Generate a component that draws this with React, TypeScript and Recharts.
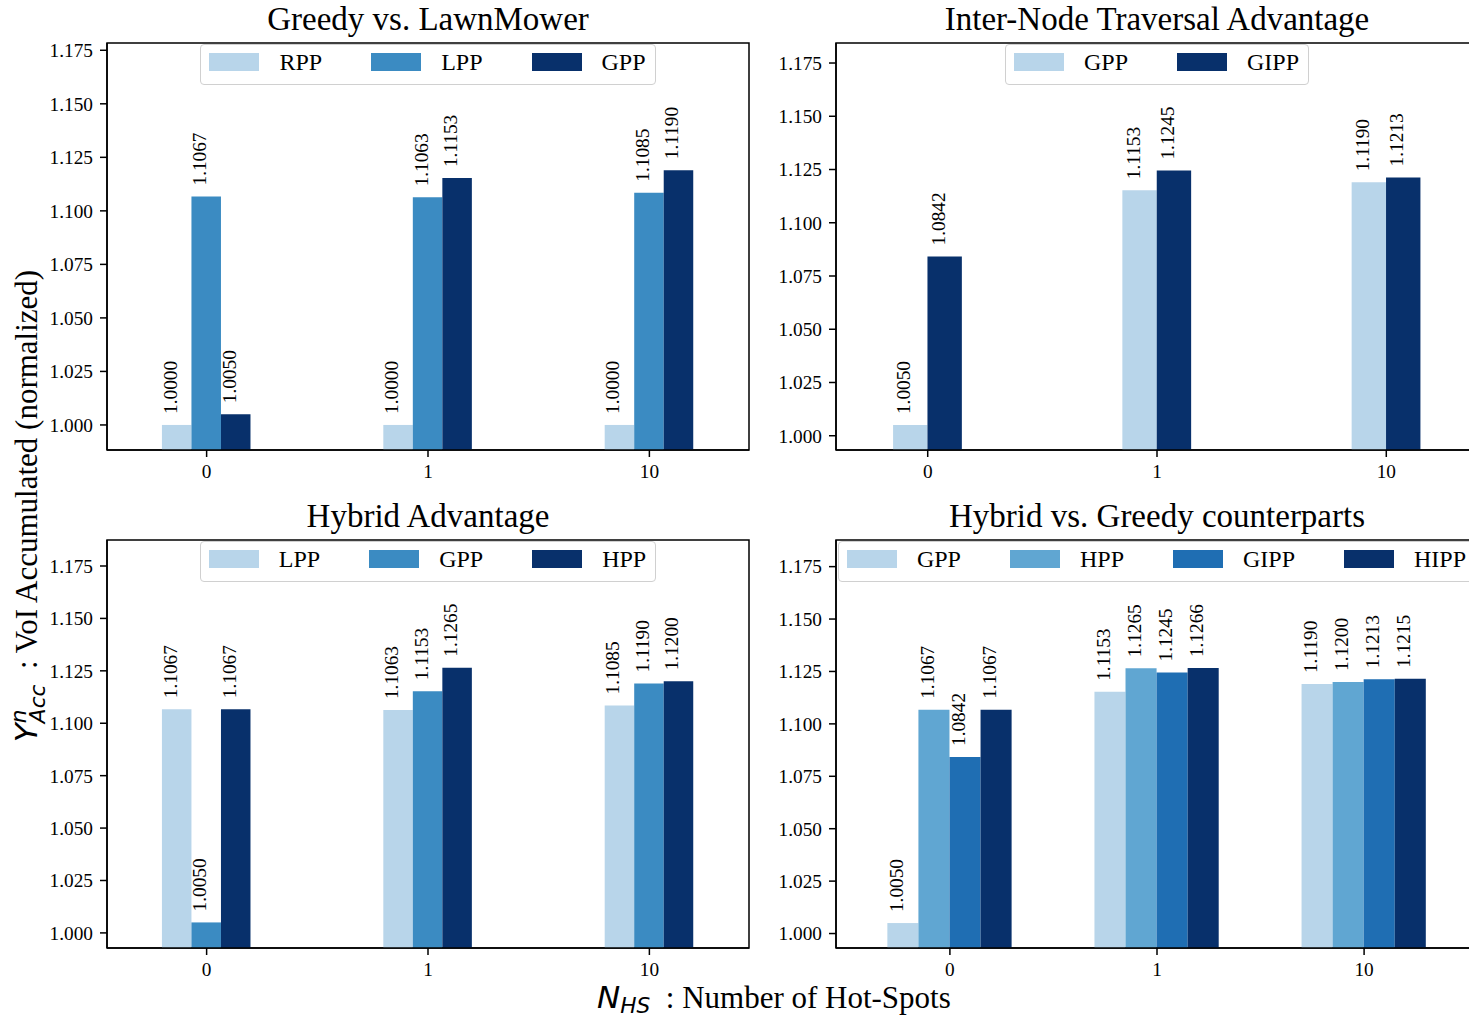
import React from "react";
import {
  BarChart,
  Bar,
  XAxis,
  YAxis,
  LabelList,
  ReferenceArea,
  Legend,
} from "recharts";

const SERIF = '"Liberation Serif", "Times New Roman", serif';
const MATH = '"DejaVu Sans", sans-serif';

// x categories (number of hot-spots)
const categories = ["0", "1", "10"];
const yTicks = [1.0, 1.025, 1.05, 1.075, 1.1, 1.125, 1.15, 1.175];

// Greedy vs. LawnMower
const p1RPP = [1.0, 1.0, 1.0];
const p1LPP = [1.1067, 1.1063, 1.1085];
const p1GPP = [1.005, 1.1153, 1.119];

// Inter-Node Traversal Advantage
const p2GPP = [1.005, 1.1153, 1.119];
const p2GIPP = [1.0842, 1.1245, 1.1213];

// Hybrid Advantage
const p3LPP = [1.1067, 1.1063, 1.1085];
const p3GPP = [1.005, 1.1153, 1.119];
const p3HPP = [1.1067, 1.1265, 1.12];

// Hybrid vs. Greedy counterparts
const p4GPP = [1.005, 1.1153, 1.119];
const p4HPP = [1.1067, 1.1265, 1.12];
const p4GIPP = [1.0842, 1.1245, 1.1213];
const p4HIPP = [1.1067, 1.1266, 1.1215];

const LIGHT = "#b8d5ea";
const MID = "#3b8bc2";
const DARK = "#08306b";

type Series = { name: string; values: number[]; color: string };

const panels = [
  {
    title: "Greedy vs. LawnMower",
    left: 107, top: 43, width: 642, height: 407,
    xDomain: [-0.45, 2.45], yDomain: [0.9883, 1.1784], barUnits: 0.4 / 3,
    series: [
      { name: "RPP", values: p1RPP, color: LIGHT },
      { name: "LPP", values: p1LPP, color: MID },
      { name: "GPP", values: p1GPP, color: DARK },
    ] as Series[],
  },
  {
    title: "Inter-Node Traversal Advantage",
    left: 836, top: 43, width: 642, height: 407,
    xDomain: [-0.4, 2.4], yDomain: [0.9933, 1.1844], barUnits: 0.15,
    series: [
      { name: "GPP", values: p2GPP, color: LIGHT },
      { name: "GIPP", values: p2GIPP, color: DARK },
    ] as Series[],
  },
  {
    title: "Hybrid Advantage",
    left: 107, top: 540, width: 642, height: 408,
    xDomain: [-0.45, 2.45], yDomain: [0.9928, 1.1874], barUnits: 0.4 / 3,
    series: [
      { name: "LPP", values: p3LPP, color: LIGHT },
      { name: "GPP", values: p3GPP, color: MID },
      { name: "HPP", values: p3HPP, color: DARK },
    ] as Series[],
  },
  {
    title: "Hybrid vs. Greedy counterparts",
    left: 836, top: 540, width: 642, height: 408,
    xDomain: [-0.55, 2.55], yDomain: [0.9931, 1.1877], barUnits: 0.15,
    series: [
      { name: "GPP", values: p4GPP, color: LIGHT },
      { name: "HPP", values: p4HPP, color: "#60a6d2" },
      { name: "GIPP", values: p4GIPP, color: "#1f6eb3" },
      { name: "HIPP", values: p4HIPP, color: DARK },
    ] as Series[],
  },
];

const BarLabel = (props: any) => {
  const vb = props.viewBox || {};
  const x = Number(props.x ?? vb.x);
  const y = Number(props.y ?? vb.y);
  const w = Number(props.width ?? vb.width);
  const v = Number(props.value);
  const cx = x + w / 2;
  const ty = y - 11;
  return (
    <text
      x={cx}
      y={ty}
      transform={`rotate(-90 ${cx} ${ty})`}
      textAnchor="start"
      fontSize={19.3}
      fontFamily={SERIF}
      style={{ fontFamily: SERIF }}
      fill="#000"
    >
      {v.toFixed(4)}
    </text>
  );
};

const makeLegend = (series: Series[]) => () => (
  <div style={{ display: "flex", justifyContent: "center" }}>
    <div
      style={{
        display: "flex",
        alignItems: "center",
        border: "1px solid #d0d0d0",
        borderRadius: 4,
        background: "rgba(255,255,255,0.8)",
        padding: "5px 9px 10px 8px",
        fontSize: 24,
        lineHeight: "24px",
        fontFamily: SERIF,
        color: "#000",
        whiteSpace: "nowrap",
      }}
    >
      {series.map((s, i) => (
        <div
          key={s.name}
          style={{ display: "flex", alignItems: "center", marginLeft: i ? 49 : 0 }}
        >
          <div style={{ width: 50, height: 17.5, background: s.color }} />
          <span style={{ marginLeft: 20 }}>{s.name}</span>
        </div>
      ))}
    </div>
  </div>
);

function Panel(p: (typeof panels)[number]) {
  const data = categories.map((c, i) => {
    const row: Record<string, number | string> = { x: i, label: c };
    p.series.forEach((s) => (row[s.name] = s.values[i]));
    return row;
  });
  const pxPerUnit = p.width / (p.xDomain[1] - p.xDomain[0]);
  const barSize = p.barUnits * pxPerUnit;
  const ML = 100, MT = 10, MB = 50, MR = 10;
  const axisStyle = { stroke: "#000", strokeWidth: 1.5 };
  const tickStyle = {
    fill: "#000",
    fontSize: 19.3,
    fontFamily: SERIF,
    style: { fontFamily: SERIF },
  };

  return (
    <>
      <div
        style={{
          position: "absolute",
          left: p.left - 50,
          top: p.top - 40,
          width: p.width + 100,
          textAlign: "center",
          fontSize: 33,
          lineHeight: "33px",
          fontFamily: SERIF,
          whiteSpace: "nowrap",
        }}
      >
        {p.title}
      </div>
      <div style={{ position: "absolute", left: p.left - ML, top: p.top - MT }}>
        <BarChart
          width={ML + p.width + MR}
          height={MT + p.height + MB}
          data={data}
          margin={{ top: MT, right: MR, bottom: 0, left: 0 }}
          barGap={0}
          barSize={barSize}
        >
          <XAxis
            dataKey="x"
            type="number"
            domain={p.xDomain}
            ticks={[0, 1, 2]}
            interval={0}
            allowDataOverflow
            tickFormatter={(v: number) => categories[v]}
            height={MB}
            tickSize={7}
            tickMargin={7}
            axisLine={axisStyle}
            tickLine={axisStyle}
            tick={tickStyle}
          />
          <YAxis
            type="number"
            domain={p.yDomain}
            ticks={yTicks}
            interval={0}
            allowDataOverflow
            tickFormatter={(v: number) => v.toFixed(3)}
            width={ML}
            tickSize={7}
            tickMargin={7}
            axisLine={axisStyle}
            tickLine={axisStyle}
            tick={tickStyle}
          />
          {p.series.map((s) => (
            <Bar key={s.name} dataKey={s.name} fill={s.color} isAnimationActive={false}>
              <LabelList dataKey={s.name} content={BarLabel} />
            </Bar>
          ))}
          <ReferenceArea
            x1={p.xDomain[0]}
            x2={p.xDomain[1]}
            y1={p.yDomain[0]}
            y2={p.yDomain[1]}
            fill="none"
            fillOpacity={0}
            stroke="#000"
            strokeWidth={1.5}
            strokeOpacity={1}
            ifOverflow="visible"
          />
          <Legend
            layout="horizontal"
            verticalAlign="middle"
            align="center"
            content={makeLegend(p.series)}
            wrapperStyle={{ top: MT + 1, left: ML, width: p.width }}
          />
        </BarChart>
      </div>
    </>
  );
}

export default function App() {
  return (
    <div
      style={{
        position: "absolute",
        left: 0,
        top: 0,
        width: 1469,
        height: 1021,
        overflow: "hidden",
        background: "#fff",
        fontFamily: SERIF,
        color: "#000",
      }}
    >
      {panels.map((p) => (
        <Panel key={p.title} {...p} />
      ))}
      {/* shared y label */}
      <div
        style={{
          position: "absolute",
          left: 26 - 300,
          top: 506 - 20,
          width: 600,
          height: 40,
          lineHeight: "40px",
          textAlign: "center",
          fontSize: 31,
          transform: "rotate(-90deg)",
          whiteSpace: "nowrap",
        }}
      >
        <span style={{ fontFamily: MATH, fontStyle: "italic" }}>
          Y
          <span style={{ fontSize: "0.7em" }}>
            <span style={{ position: "relative", top: "-0.5em", marginRight: "-0.634em" }}>n</span>
            <span style={{ position: "relative", top: "0.35em" }}>Acc</span>
          </span>
        </span>
        <span>&nbsp;&nbsp;: VoI Accumulated (normalized)</span>
      </div>
      {/* shared x label */}
      <div
        style={{
          position: "absolute",
          left: 597,
          top: 982,
          fontSize: 31,
          lineHeight: "31px",
          whiteSpace: "nowrap",
        }}
      >
        <span style={{ fontFamily: MATH, fontStyle: "italic" }}>
          N
          <span style={{ fontSize: "0.7em", position: "relative", top: "0.25em" }}>HS</span>
        </span>
        <span>&nbsp;&nbsp;: Number of Hot-Spots</span>
      </div>
    </div>
  );
}
